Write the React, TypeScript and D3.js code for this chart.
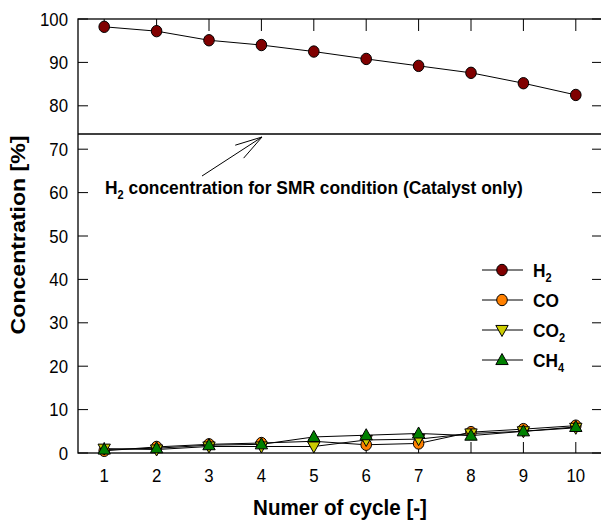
import React from "react";
import * as d3 from "d3";

const cycles = [1, 2, 3, 4, 5, 6, 7, 8, 9, 10];
const h2 = [98.2, 97.2, 95.1, 94.0, 92.5, 90.8, 89.2, 87.6, 85.2, 82.5];
const co = [0.5, 1.4, 2.0, 2.3, 2.7, 1.9, 2.2, 4.8, 5.5, 6.3];
const co2 = [1.0, 0.8, 1.5, 1.5, 1.5, 3.0, 3.2, 4.5, 5.0, 5.8];
const ch4 = [0.8, 1.1, 1.8, 2.0, 3.7, 4.1, 4.5, 4.0, 5.0, 6.0];
const smrH2 = 73.5;
const yTicks = [0, 10, 20, 30, 40, 50, 60, 70, 80, 90, 100];
const xTicks = [1, 2, 3, 4, 5, 6, 7, 8, 9, 10];

const W = 601;
const H = 529;
const FONT = "'Liberation Sans', Arial, sans-serif";
const VS = 1.1; // vertical stretch of the source image

type Shape = "circle" | "down" | "up";

function Marker({ x, y, shape, fill }: { x: number; y: number; shape: Shape; fill: string }) {
  if (shape === "circle") {
    return <ellipse cx={x} cy={y} rx={5.3} ry={5.7} fill={fill} stroke="#000" strokeWidth={1} />;
  }
  const s = 6.5;
  const pts =
    shape === "up"
      ? [[x, y - s], [x - s * 0.95, y + s * 0.7], [x + s * 0.95, y + s * 0.7]]
      : [[x, y + s], [x - s * 0.95, y - s * 0.7], [x + s * 0.95, y - s * 0.7]];
  return <polygon points={pts.map((p) => p.join(",")).join(" ")} fill={fill} stroke="#000" strokeWidth={1} />;
}

function T({
  x,
  y,
  rotate = 0,
  anchor = "start",
  size,
  bold = false,
  children,
}: {
  x: number;
  y: number;
  rotate?: number;
  anchor?: string;
  size: number;
  bold?: boolean;
  children: React.ReactNode;
}) {
  return (
    <g transform={`translate(${x},${y}) scale(1,${VS}) rotate(${rotate})`}>
      <text x={0} y={0} textAnchor={anchor} fontSize={size} fontWeight={bold ? "bold" : "normal"} fill="#000">
        {children}
      </text>
    </g>
  );
}

const series: { key: string; sub: string; values: number[]; shape: Shape; fill: string }[] = [
  { key: "H", sub: "2", values: h2, shape: "circle", fill: "#800000" },
  { key: "CO", sub: "", values: co, shape: "circle", fill: "#FF8000" },
  { key: "CO", sub: "2", values: co2, shape: "down", fill: "#CCCC00" },
  { key: "CH", sub: "4", values: ch4, shape: "up", fill: "#008000" },
];

export default function App() {
  const x = d3.scaleLinear().domain([0.5, 10.5]).range([78, 602]);
  const y = d3.scaleLinear().domain([0, 100]).range([453, 19]);
  const line = d3
    .line<number>()
    .x((_, i) => x(cycles[i]))
    .y((d) => y(d));

  const left = x.range()[0];
  const right = x.range()[1];
  const top = y.range()[1];
  const bottom = y.range()[0];

  const tip: [number, number] = [262, 137];
  const tail: [number, number] = [202, 176];
  const ang = Math.atan2(tail[1] - tip[1], tail[0] - tip[0]);
  const barb = 28;
  const spread = (16 * Math.PI) / 180;
  const b1 = [tip[0] + barb * Math.cos(ang + spread), tip[1] + barb * Math.sin(ang + spread)];
  const b2 = [tip[0] + barb * Math.cos(ang - spread), tip[1] + barb * Math.sin(ang - spread)];

  const legendX = 502;
  const legendY0 = 270;
  const legendDy = 30;

  return (
    <svg
      width={W}
      height={H}
      style={{ position: "absolute", left: 0, top: 0, background: "#fff", display: "block" }}
      fontFamily={FONT}
    >
      <rect x={0} y={0} width={W} height={H} fill="#fff" />
      <rect x={left} y={top} width={right - left} height={bottom - top} fill="none" stroke="#000" strokeWidth={1.3} />
      {yTicks.map((t) => (
        <g key={"y" + t}>
          <line x1={left} x2={left + 10} y1={y(t)} y2={y(t)} stroke="#000" strokeWidth={1} />
          <line x1={right - 10} x2={right} y1={y(t)} y2={y(t)} stroke="#000" strokeWidth={1} />
          <T x={left - 10} y={y(t) + 6.6} anchor="end" size={16.8}>
            {t}
          </T>
        </g>
      ))}
      {xTicks.map((t) => (
        <g key={"x" + t}>
          <line x1={x(t)} x2={x(t)} y1={bottom} y2={bottom - 11} stroke="#000" strokeWidth={1} />
          <line x1={x(t)} x2={x(t)} y1={top} y2={top + 12} stroke="#000" strokeWidth={1} />
          <T x={x(t)} y={482} anchor="middle" size={16.8}>
            {t}
          </T>
        </g>
      ))}
      <line x1={left} x2={right} y1={y(smrH2)} y2={y(smrH2)} stroke="#000" strokeWidth={1.3} />
      <line x1={tail[0]} y1={tail[1]} x2={tip[0]} y2={tip[1]} stroke="#000" strokeWidth={1} />
      <line x1={tip[0]} y1={tip[1]} x2={b1[0]} y2={b1[1]} stroke="#000" strokeWidth={1} />
      <line x1={tip[0]} y1={tip[1]} x2={b2[0]} y2={b2[1]} stroke="#000" strokeWidth={1} />
      <T x={105} y={194} size={17.4} bold>
        H<tspan fontSize={11} dy={4.5}>2</tspan>
        <tspan dy={-4.5}> concentration for SMR condition (Catalyst only)</tspan>
      </T>
      {series.map((s, si) => (
        <path key={"s" + si} d={line(s.values) || ""} fill="none" stroke="#000" strokeWidth={1} />
      ))}
      {series.map((s, si) => (
        <g key={"m" + si}>
          {s.values.map((v, i) => (
            <Marker key={i} x={x(cycles[i])} y={y(v)} shape={s.shape} fill={s.fill} />
          ))}
        </g>
      ))}
      {series.map((s, si) => {
        const ly = legendY0 + si * legendDy;
        return (
          <g key={"l" + si}>
            <line x1={legendX - 20} x2={legendX + 21} y1={ly} y2={ly} stroke="#000" strokeWidth={1} />
            <Marker x={legendX} y={ly} shape={s.shape} fill={s.fill} />
            <T x={533} y={ly + 7} size={17.3} bold>
              {s.key}
              {s.sub ? (
                <tspan fontSize={11} dy={4.5}>
                  {s.sub}
                </tspan>
              ) : null}
            </T>
          </g>
        );
      })}
      <T x={340} y={515} anchor="middle" size={20.6} bold>
        Numer of cycle [-]
      </T>
      <T x={25} y={235} anchor="middle" rotate={-90} size={21} bold>
        Concentration [%]
      </T>
    </svg>
  );
}
